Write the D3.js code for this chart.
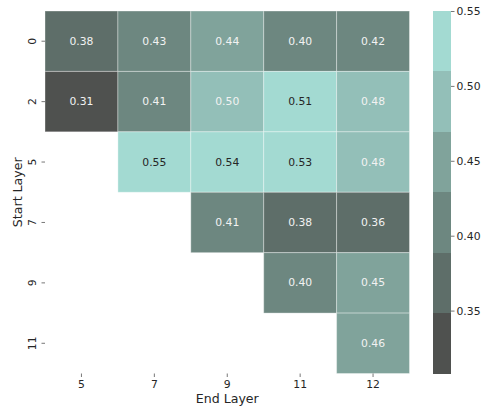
<!DOCTYPE html>
<html><head><meta charset="utf-8">
<script src="https://cdn.jsdelivr.net/npm/d3@7"></script>
<style>body{margin:0;background:#fff}svg{display:block}text{font-family:"DejaVu Sans",sans-serif}</style>
</head><body><svg id="c" width="483" height="410"></svg>
<script>
const startLayers = ["0","2","5","7","9","11"];
const endLayers = ["5","7","9","11","12"];
// null = empty cell
const values = [
  [0.380, 0.426, 0.440, 0.400, 0.420],
  [0.310, 0.410, 0.503, 0.512, 0.480],
  [null,  0.550, 0.540, 0.530, 0.480],
  [null,  null,  0.410, 0.380, 0.360],
  [null,  null,  null,  0.400, 0.450],
  [null,  null,  null,  null,  0.460]
];
const labels = [
  ["0.38","0.43","0.44","0.40","0.42"],
  ["0.31","0.41","0.50","0.51","0.48"],
  [null,"0.55","0.54","0.53","0.48"],
  [null,null,"0.41","0.38","0.36"],
  [null,null,null,"0.40","0.45"],
  [null,null,null,null,"0.46"]
];
const palette = ["#4f514f","#5e6e69","#6d8780","#80a39b","#93bfb8","#a3dad2"];
const vmin = 0.308, vmax = 0.55;
const cbTicks = [0.35,0.40,0.45,0.50,0.55];

const svg = d3.select("#c");
const L = 45, R = 409.5, T = 11, B = 373.5;
const x = d3.scaleBand().domain(endLayers).range([L,R]);
const y = d3.scaleBand().domain(startLayers).range([T,B]);
const step = (vmax-vmin)/palette.length;
const color = d3.scaleQuantize().domain([vmin,vmax]).range(palette);

const cells = [];
values.forEach((row,i)=>row.forEach((v,j)=>{ if(v!==null) cells.push({r:startLayers[i],c:endLayers[j],v,lab:labels[i][j],band:palette.indexOf(color(v))}); }));

svg.append("g").selectAll("rect").data(cells).join("rect")
  .attr("x",d=>x(d.c)).attr("y",d=>y(d.r))
  .attr("width",x.bandwidth()).attr("height",y.bandwidth())
  .attr("fill",d=>color(d.v))
  .attr("stroke","rgba(255,255,255,0.35)").attr("stroke-width",1);

svg.append("g").selectAll("text").data(cells).join("text")
  .attr("x",d=>x(d.c)+x.bandwidth()/2).attr("y",d=>y(d.r)+y.bandwidth()/2)
  .attr("text-anchor","middle").attr("dominant-baseline","central")
  .attr("font-size","10.8px")
  .attr("fill",d=>d.band>=5?"#262626":"#f2f2f2")
  .text(d=>d.lab);

// axes
const ax = svg.append("g").attr("transform",`translate(0,${B})`)
  .call(d3.axisBottom(x).tickSize(3.5).tickPadding(3));
ax.select(".domain").remove();
ax.selectAll(".tick line").attr("stroke","#555").attr("stroke-width",0.8);
ax.selectAll("text").attr("font-size","10.8px").attr("fill","#262626").attr("font-family","DejaVu Sans");

const ay = svg.append("g").attr("transform",`translate(${L},0)`)
  .call(d3.axisLeft(y).tickSize(3.5).tickPadding(3));
ay.select(".domain").remove();
ay.selectAll(".tick line").attr("stroke","#555").attr("stroke-width",0.8);
ay.selectAll("text").attr("font-size","10.8px").attr("fill","#262626").attr("font-family","DejaVu Sans")
  .attr("x",0).attr("dy",null).attr("text-anchor","middle")
  .attr("transform","translate(-12.5,0) rotate(-90)")
  .attr("dominant-baseline","central");

svg.append("text").attr("x",(L+R)/2).attr("y",403).attr("text-anchor","middle")
  .attr("font-size","12.6px").attr("fill","#262626").text("End Layer");
svg.append("text").attr("transform",`translate(22,${(T+B)/2}) rotate(-90)`).attr("text-anchor","middle")
  .attr("font-size","12.6px").attr("fill","#262626").text("Start Layer");

// colorbar
const cbx = 433, cbw = 18;
const cy = d3.scaleLinear().domain([vmin,vmax]).range([B,T]);
svg.append("g").selectAll("rect").data(palette).join("rect")
  .attr("x",cbx).attr("width",cbw)
  .attr("y",(d,i)=>cy(vmin+(i+1)*step)).attr("height",(d,i)=>cy(vmin+i*step)-cy(vmin+(i+1)*step))
  .attr("fill",d=>d).attr("shape-rendering","crispEdges");
const ac = svg.append("g").attr("transform",`translate(${cbx+cbw},0)`)
  .call(d3.axisRight(cy).tickValues(cbTicks).tickFormat(d3.format(".2f")).tickSize(3.5).tickPadding(2));
ac.select(".domain").remove();
ac.selectAll(".tick line").attr("stroke","#555").attr("stroke-width",0.8);
ac.selectAll("text").attr("font-size","10.8px").attr("fill","#262626").attr("font-family","DejaVu Sans");
</script></body></html>
